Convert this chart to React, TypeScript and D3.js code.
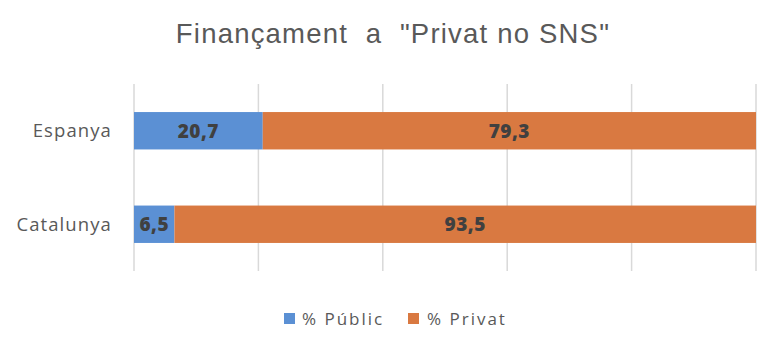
import React from "react";
import * as d3 from "d3";

const categories = ["Espanya", "Catalunya"];
const publicValues = [20.7, 6.5];
const privateValues = [79.3, 93.5];
const seriesNames = ["% Públic", "% Privat"];
const xTicks = [0, 20, 40, 60, 80, 100];
const title = 'Finançament  a  "Privat no SNS"';

const W = 780, H = 352;
const colors = ["#5B90D4", "#D97941"];
const labelFont = "'Open Sans', 'Noto Sans', sans-serif";

export default function App() {
  const x = d3.scaleLinear().domain([0, 100]).range([134, 756]);
  const y = d3.scaleBand().domain(categories).range([84, 271]).paddingInner(0.6).paddingOuter(0.3);
  const fmt = (v: number) => v.toFixed(1).replace(".", ",");
  const bh = y.bandwidth();
  return (
    <svg width={W} height={H} style={{ position: "absolute", left: 0, top: 0 }}>
      <rect width={W} height={H} fill="#fff" />
      <text x={393} y={43} textAnchor="middle" fontFamily="'Liberation Sans', Arial, sans-serif" fontSize={27.5} fill="#595959" letterSpacing={1.2} style={{ whiteSpace: "pre" }}>{title}</text>
      {xTicks.map((t) => (
        <line key={t} x1={x(t)} x2={x(t)} y1={84} y2={271} stroke="#D9D9D9" strokeWidth={1.5} />
      ))}
      {categories.map((c, i) => {
        const y0 = y(c)!;
        const p = publicValues[i];
        const q = privateValues[i];
        return (
          <g key={c}>
            <rect x={x(0)} y={y0} width={x(p) - x(0)} height={bh} fill={colors[0]} />
            <rect x={x(p)} y={y0} width={x(p + q) - x(p)} height={bh} fill={colors[1]} />
            <text x={(x(0) + x(p)) / 2} y={y0 + bh / 2} dy="0.36em" textAnchor="middle" fontFamily={labelFont} fontWeight={800} fontSize={19} fill="#404040" letterSpacing={0.5}>{fmt(p)}</text>
            <text x={(x(p) + x(p + q)) / 2} y={y0 + bh / 2} dy="0.36em" textAnchor="middle" fontFamily={labelFont} fontWeight={800} fontSize={19} fill="#404040" letterSpacing={0.5}>{fmt(q)}</text>
            <text x={112} y={y0 + bh / 2} dy="0.36em" textAnchor="end" fontFamily={labelFont} fontSize={18.5} fill="#595959" letterSpacing={1.1}>{c}</text>
          </g>
        );
      })}
      <g fontFamily={labelFont} fontSize={17} fill="#595959" letterSpacing={2}>
        <rect x={284} y={313} width={11} height={11} fill={colors[0]} />
        <text x={302} y={319} dy="0.36em">{seriesNames[0]}</text>
        <rect x={408} y={313} width={11} height={11} fill={colors[1]} />
        <text x={427} y={319} dy="0.36em">{seriesNames[1]}</text>
      </g>
    </svg>
  );
}
